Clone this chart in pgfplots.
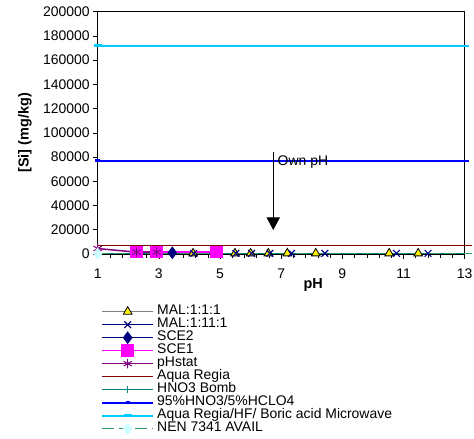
\documentclass[border=0pt]{standalone}
\usepackage{pgfplots}
\pgfplotsset{compat=1.18}
\usepackage{fontspec}
\setmainfont{Liberation Sans}
\usetikzlibrary{arrows.meta}
\definecolor{malgray}{HTML}{808080}
\definecolor{navy}{HTML}{000080}
\definecolor{mag}{HTML}{FF00FF}
\definecolor{phpurple}{HTML}{800080}
\definecolor{aqred}{HTML}{800000}
\definecolor{teal2}{HTML}{008080}
\definecolor{blue2}{HTML}{0000FF}
\definecolor{cyan2}{HTML}{00CCFF}
\definecolor{nengreen}{HTML}{339966}
\definecolor{nenfill}{HTML}{CCFFFF}
\begin{document}
\begin{tikzpicture}
\useasboundingbox (0,0) rectangle (474bp,439bp);
\begin{axis}[
  at={(97.7bp,185bp)}, anchor=south west,
  scale only axis, width=367bp, height=242.3bp,
  xmin=1, xmax=13, ymin=0, ymax=200000,
  xtick={1,3,5,7,9,11,13},
  minor x tick num=4,
  ytick={0,20000,40000,60000,80000,100000,120000,140000,160000,180000,200000},
  scaled y ticks=false,
  yticklabel style={/pgf/number format/.cd,fixed,1000 sep={}},
  xticklabel style={yshift=-6.5bp},
  /pgf/number format/assume math mode=true,
  tick align=outside,
  major tick length=4.5bp, minor tick length=4bp,
  tick style={black, line width=0.6bp},
  xtick pos=bottom, ytick pos=left,
  axis line style={black, line width=0.8bp},
  ticklabel style={font=\fontsize{14}{15}\selectfont},
  xlabel={pH}, ylabel={[Si] (mg/kg)},
  xlabel style={font=\fontsize{14.5}{16}\selectfont\bfseries, at={(axis description cs:0.587,-0.128)}, anchor=center},
  ylabel style={font=\fontsize{14.5}{16}\selectfont\bfseries, at={(axis description cs:-0.198,0.5)}, anchor=center, rotate=0},
  clip=false,
  legend cell align=left,
  legend image code/.code={\draw[#1, mark indices={2}] plot coordinates {(0bp,0bp) (25.5bp,0bp) (51bp,0bp)};},
  legend style={at={(axis description cs:0.009,-0.2103)}, anchor=north west, draw=none, fill=none, inner sep=0pt,
    column sep=3bp, row sep=0pt,
    nodes={inner sep=0pt, text height=9.6bp, text depth=3.4bp, anchor=west},
    font=\fontsize{14}{13}\selectfont},
]
% MAL:1:1:1
\addplot[malgray, line width=1.5bp, mark=triangle*, mark size=5bp, mark options={solid, fill=yellow, draw=black, line width=0.8bp}]
 coordinates {(4.12,500) (5.49,500) (6.0,500) (6.58,500) (7.2,500) (8.13,500) (10.53,500) (11.48,500)};
\addlegendentry{MAL:1:1:1}
% MAL:1:11:1
\addplot[navy, line width=1.5bp, mark=x, mark size=4.7bp, mark options={solid, draw=navy, line width=1.2bp}]
 coordinates {(4.14,500) (5.52,500) (6.03,500) (6.63,500) (7.34,500) (8.43,500) (10.77,500) (11.8,500)};
\addlegendentry{MAL:1:11:1}
% SCE2
\addplot[navy, line width=1.5bp, mark=diamond*, mark size=5.2bp, mark options={solid, fill=navy, draw=navy}]
 coordinates {(3.44,1000)};
\addlegendentry{SCE2}
% SCE1
\addplot[mag, line width=1.5bp, mark=square*, mark size=5.5bp, mark options={solid, fill=mag, draw=mag}]
 coordinates {(2.27,1500) (2.93,1500) (4.89,1500)};
\addlegendentry{SCE1}
% pHstat
\addplot[phpurple, line width=1.5bp, mark=asterisk, mark size=4.8bp, mark options={solid, draw=phpurple, line width=1bp}]
 coordinates {(1.0,4500) (2.27,1500) (2.93,1500)};
\addlegendentry{pHstat}
% Aqua Regia
\addplot[aqred, line width=1.5bp, mark=none]
 coordinates {(1,6900) (13.25,6900)};
\addlegendentry{Aqua Regia}
% HNO3 Bomb
\addplot[teal2, line width=1.5bp, mark=+, mark size=3.5bp, mark indices={1}, mark options={solid, line width=1bp}]
 coordinates {(1,500) (13.25,500)};
\addlegendentry{HNO3 Bomb}
% 95%HNO3/5%HCLO4
\addplot[blue2, line width=1.8bp, mark=-, mark size=2.2bp, mark indices={1}, mark options={solid, line width=3bp}]
 coordinates {(1,77000) (13.15,77000)};
\addlegendentry{95\%HNO3/5\%HCLO4}
% Aqua Regia/HF/ Boric acid Microwave
\addplot[cyan2, line width=2bp, mark=-, mark size=4bp, mark indices={1}, mark options={solid, line width=3.5bp}]
 coordinates {(1,172000) (13.15,172000)};
\addlegendentry{Aqua Regia/HF/ Boric acid Microwave}
% NEN 7341 AVAIL
\addplot[nengreen, line width=1.5bp, dash pattern=on 12bp off 4.5bp, mark=diamond*, mark size=5bp, mark indices={1}, mark options={solid, fill=nenfill, draw=nenfill}]
 coordinates {(1,300) (13.25,300)};
\addlegendentry{NEN 7341 AVAIL}
% arrow annotation
\draw[line width=1bp, -{Triangle[length=12.7bp,width=13.3bp]}] (axis cs:6.74,84200) -- (axis cs:6.74,19800);
\node[anchor=west, inner sep=0pt, font=\fontsize{14}{15}\selectfont] at (axis cs:6.88,75500) {Own pH};
\end{axis}
\end{tikzpicture}
\end{document}
